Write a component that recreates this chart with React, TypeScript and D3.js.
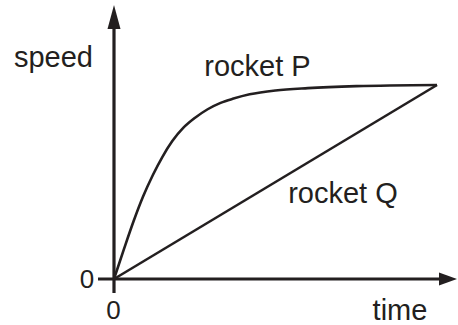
import React from "react";
import * as d3 from "d3";

const timeP = [0, 0.3, 0.6, 0.9, 1.2, 1.5, 1.8, 2.15, 2.5, 2.9, 3.3, 3.7, 4.2, 5.0, 6.0, 7.5, 10];
const speedP = [0, 1.5, 2.95, 4.25, 5.35, 6.3, 7.1, 7.8, 8.3, 8.75, 9.08, 9.3, 9.52, 9.72, 9.84, 9.94, 10];
const timeQ = [0, 10];
const speedQ = [0, 10];
const axisLabels = { x: "time", y: "speed" };
const seriesLabels = ["rocket P", "rocket Q"];
const originLabel = "0";

const W = 458;
const H = 325;
const INK = "#231f20";
const FONT = "'Liberation Sans', Arial, sans-serif";

export default function App() {
  const x = d3.scaleLinear().domain([0, 10]).range([114, 437]);
  const y = d3.scaleLinear().domain([0, 10]).range([279, 85]);

  const line = d3
    .line<[number, number]>()
    .x((d) => x(d[0]))
    .y((d) => y(d[1]))
    .curve(d3.curveMonotoneX);

  const pData: [number, number][] = timeP.map((t, i) => [t, speedP[i]]);
  const qData: [number, number][] = timeQ.map((t, i) => [t, speedQ[i]]);

  const x0 = x(0);
  const y0 = y(0);

  return (
    <svg
      width={W}
      height={H}
      style={{ position: "absolute", left: 0, top: 0, background: "#fff" }}
    >
      {/* y axis */}
      <line x1={x0} y1={y0 + 14} x2={x0} y2={24} stroke={INK} strokeWidth={3.2} />
      <path d={`M${x0},5 L${x0 + 6.5},29 L${x0 - 6.5},29 Z`} fill={INK} />
      {/* x axis */}
      <line x1={x0 - 16} y1={y0} x2={444} y2={y0} stroke={INK} strokeWidth={3.2} />
      <path d={`M457,${y0} L439,${y0 - 6.5} L439,${y0 + 6.5} Z`} fill={INK} />

      <path d={line(pData) || ""} fill="none" stroke={INK} strokeWidth={2.6} strokeLinejoin="round" />
      <path d={line(qData) || ""} fill="none" stroke={INK} strokeWidth={2.6} />

      <g fontFamily={FONT} fill={INK} fontSize={29}>
        <text x={53.5} y={66.5} textAnchor="middle">{axisLabels.y}</text>
        <text x={400} y={320} textAnchor="middle">{axisLabels.x}</text>
        <text x={257.5} y={76} textAnchor="middle">{seriesLabels[0]}</text>
        <text x={343} y={203} textAnchor="middle">{seriesLabels[1]}</text>
        <text x={87} y={288} textAnchor="middle" fontSize={26}>{originLabel}</text>
        <text x={113.5} y={319} textAnchor="middle" fontSize={26}>{originLabel}</text>
      </g>
    </svg>
  );
}
